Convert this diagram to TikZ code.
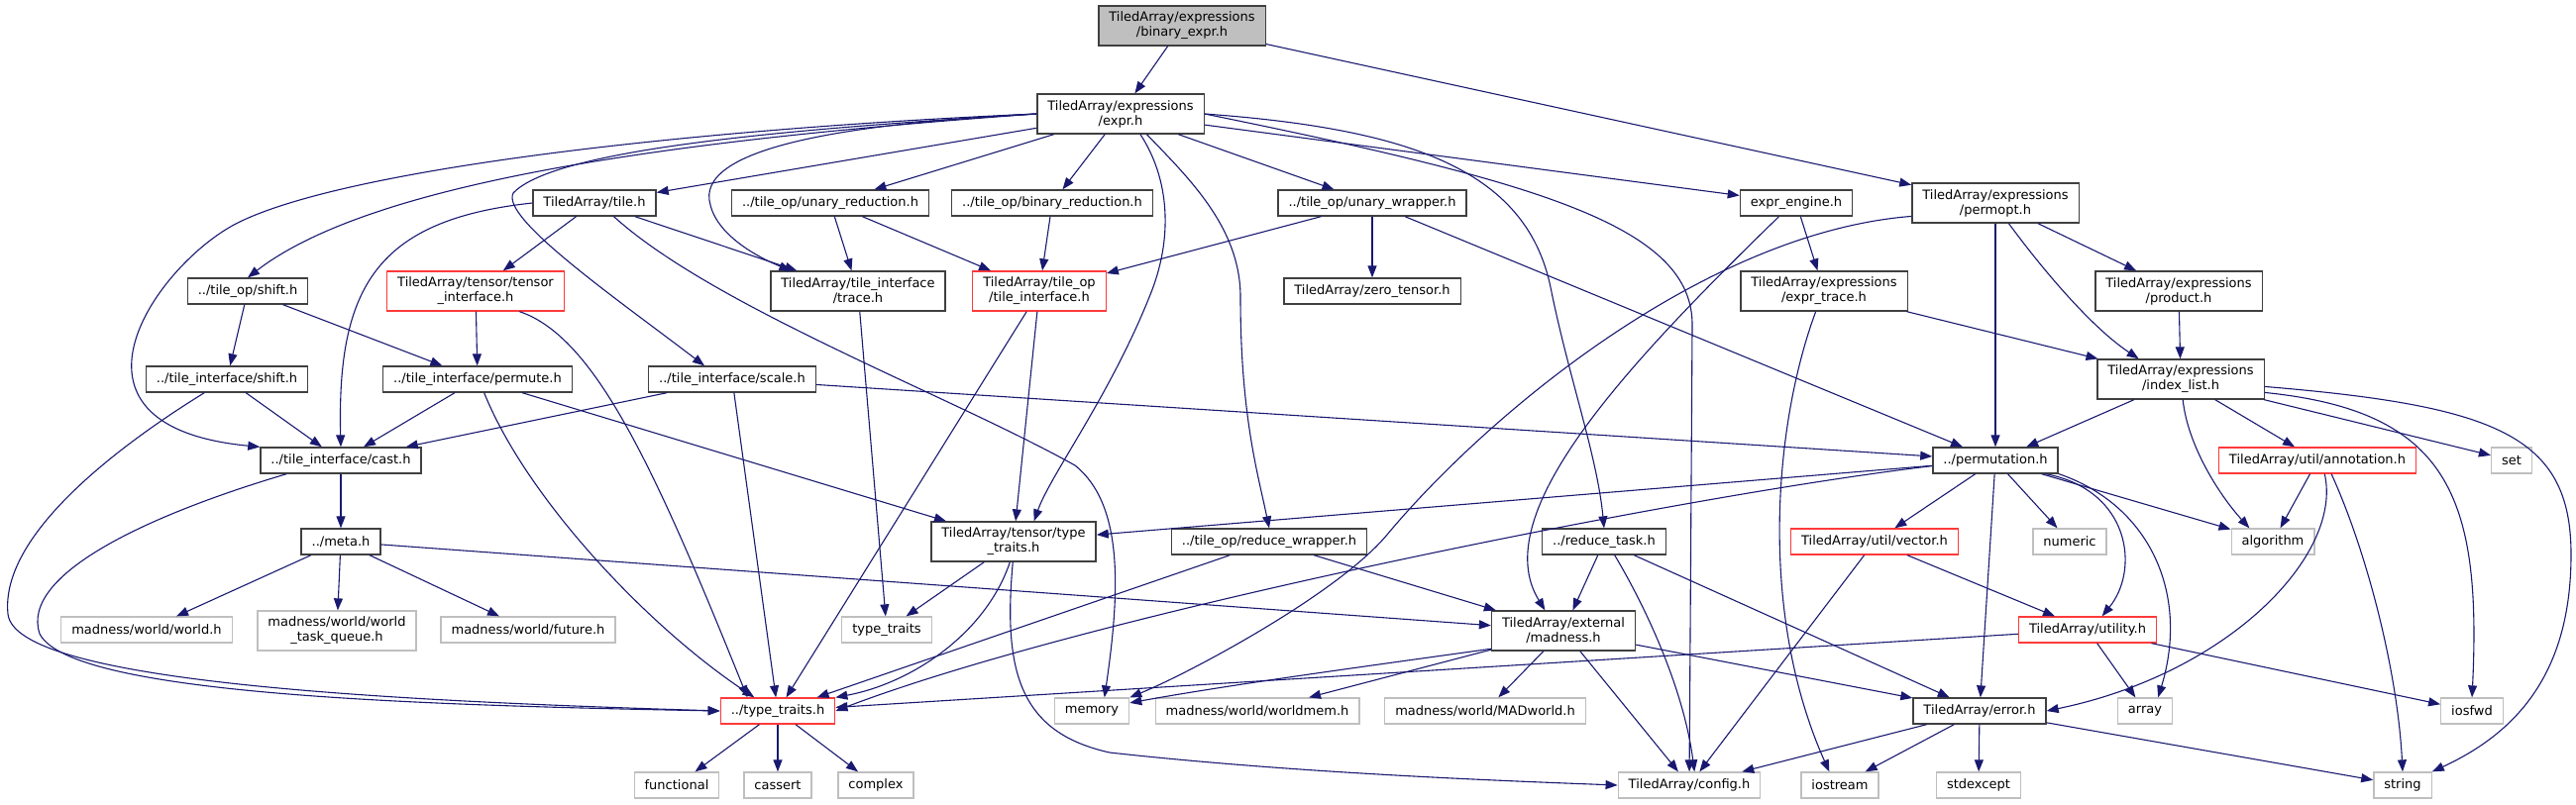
\documentclass[tikz,border=0pt]{standalone}
\usepackage{fontspec}
\setmainfont{DejaVu Sans}
\usetikzlibrary{arrows.meta}
\definecolor{edgeblue}{HTML}{191970}
\definecolor{boxgray}{HTML}{404040}
\definecolor{sysgray}{HTML}{BFBFBF}
\definecolor{cutred}{HTML}{FF3A3A}
\begin{document}
\begin{tikzpicture}[x=1pt, y=-1pt,
  hdr/.style={draw=boxgray, line width=1.3pt, fill=white, align=center,
    font=\fontsize{13}{15}\selectfont, inner xsep=10.5pt, inner ysep=2pt, minimum height=26pt},
  hdrtwo/.style={minimum height=40pt},
  hdrcut/.style={hdr, draw=cutred},
  hdrsys/.style={hdr, draw=sysgray},
  hdrroot/.style={hdr, fill=sysgray},
  inc/.style={draw=edgeblue, line width=1.1pt, -{Triangle[length=12pt,width=9pt]}}]
\useasboundingbox (0,0) rectangle (2600,812);
\node[hdrroot, hdrtwo] (binexpr) at (1193,26) {TiledArray/expressions\\/binary\_expr.h};
\node[hdr, hdrtwo] (expr) at (1131,115) {TiledArray/expressions\\/expr.h};
\node[hdr] (tile) at (600,205) {TiledArray/tile.h};
\node[hdr] (unaryred) at (838,205) {../tile\_op/unary\_reduction.h};
\node[hdr] (binaryred) at (1062,205) {../tile\_op/binary\_reduction.h};
\node[hdr] (unarywrap) at (1385,205) {../tile\_op/unary\_wrapper.h};
\node[hdr] (exprengine) at (1813,205) {expr\_engine.h};
\node[hdr, hdrtwo] (permopt) at (2014,205) {TiledArray/expressions\\/permopt.h};
\node[hdr] (opshift) at (250,294) {../tile\_op/shift.h};
\node[hdrcut, hdrtwo] (tensorif) at (480,294) {TiledArray/tensor/tensor\\\_interface.h};
\node[hdr, hdrtwo] (trace) at (866,294) {TiledArray/tile\_interface\\/trace.h};
\node[hdrcut, hdrtwo] (opif) at (1049,294) {TiledArray/tile\_op\\/tile\_interface.h};
\node[hdr] (zerotensor) at (1385,294) {TiledArray/zero\_tensor.h};
\node[hdr, hdrtwo] (exprtrace) at (1841,294) {TiledArray/expressions\\/expr\_trace.h};
\node[hdr, hdrtwo] (product) at (2199,294) {TiledArray/expressions\\/product.h};
\node[hdr] (ifshift) at (229,383) {../tile\_interface/shift.h};
\node[hdr] (permute) at (482,383) {../tile\_interface/permute.h};
\node[hdr] (scale) at (739,383) {../tile\_interface/scale.h};
\node[hdr, hdrtwo] (indexlist) at (2201,383) {TiledArray/expressions\\/index\_list.h};
\node[hdr] (cast) at (344,465) {../tile\_interface/cast.h};
\node[hdr] (permutation) at (2014,465) {../permutation.h};
\node[hdrcut] (annotation) at (2339,465) {TiledArray/util/annotation.h};
\node[hdrsys] (set) at (2535,465) {set};
\node[hdr] (meta) at (344,547) {../meta.h};
\node[hdr, hdrtwo] (tensortraits) at (1023,547) {TiledArray/tensor/type\\\_traits.h};
\node[hdr] (reducewrap) at (1281,547) {../tile\_op/reduce\_wrapper.h};
\node[hdr] (reducetask) at (1619,547) {../reduce\_task.h};
\node[hdrcut] (vector) at (1892,547) {TiledArray/util/vector.h};
\node[hdrsys] (numeric) at (2089,547) {numeric};
\node[hdrsys] (algorithm) at (2294,547) {algorithm};
\node[hdrsys] (world) at (148,636) {madness/world/world.h};
\node[hdrsys, hdrtwo] (taskqueue) at (340,637) {madness/world/world\\\_task\_queue.h};
\node[hdrsys] (future) at (533,636) {madness/world/future.h};
\node[hdrsys] (stdtraits) at (895,636) {type\_traits};
\node[hdr, hdrtwo] (madness) at (1578,637) {TiledArray/external\\/madness.h};
\node[hdrcut] (utility) at (2107,636) {TiledArray/utility.h};
\node[hdrcut] (typetraits) at (785,718) {../type\_traits.h};
\node[hdrsys] (memory) at (1102,718) {memory};
\node[hdrsys] (worldmem) at (1269,718) {madness/world/worldmem.h};
\node[hdrsys] (madworld) at (1499,718) {madness/world/MADworld.h};
\node[hdr] (error) at (1998,718) {TiledArray/error.h};
\node[hdrsys] (array) at (2165,718) {array};
\node[hdrsys] (iosfwd) at (2495,718) {iosfwd};
\node[hdrsys] (functional) at (683,793) {functional};
\node[hdrsys] (cassert) at (785,793) {cassert};
\node[hdrsys] (complex) at (884,793) {complex};
\node[hdrsys] (config) at (1705,793) {TiledArray/config.h};
\node[hdrsys] (iostream) at (1857,793) {iostream};
\node[hdrsys] (stdexcept) at (1997,793) {stdexcept};
\node[hdrsys] (string) at (2425,793) {string};

\draw[inc] (binexpr) -- (expr);
\draw[inc] (binexpr) -- (permopt);
\draw[inc] (expr) -- (tile);
\draw[inc] (expr) -- (unaryred);
\draw[inc] (expr) -- (binaryred);
\draw[inc] (expr) -- (unarywrap);
\draw[inc] (expr) -- (exprengine);
\draw[inc] (expr.west) .. controls (700,140) and (380,180) .. (opshift.north);
\draw[inc] (expr.west) .. controls (700,130) and (350,170) .. (240,225) .. controls (160,265) and (40,430) .. (cast.north west);
\draw[inc] (expr.west) .. controls (800,130) and (560,150) .. (518,195) .. controls (505,220) and (620,300) .. (scale.154);
\draw[inc] (expr.west) .. controls (850,125) and (700,150) .. (717,207) .. controls (725,240) and (770,262) .. (trace.163);
\draw[inc] (expr.-46) .. controls (1180,180) and (1185,240) .. (1160,300) .. controls (1120,400) and (1060,480) .. (tensortraits.45);
\draw[inc] (expr.-38) .. controls (1200,180) and (1252,230) .. (1252,300) .. controls (1252,420) and (1270,480) .. (reducewrap.north);
\draw[inc] (expr.east) .. controls (1560,185) and (1710,230) .. (1708,330) -- (config);
\draw[inc] (expr.east) .. controls (1420,130) and (1540,170) .. (1565,290) .. controls (1583,380) and (1612,460) .. (reducetask.north);
\draw[inc] (tile.west) .. controls (380,222) and (340,290) .. (cast.north);
\draw[inc] (tile) -- (tensorif);
\draw[inc] (tile) -- (trace);
\draw[inc] (tile.-35) .. controls (720,310) and (960,400) .. (1085,470) .. controls (1135,510) and (1130,600) .. (memory.47);
\draw[inc] (unaryred) -- (trace);
\draw[inc] (unaryred) -- (opif);
\draw[inc] (binaryred) -- (opif);
\draw[inc] (unarywrap) -- (opif);
\draw[inc] (unarywrap) -- (zerotensor);
\draw[inc] (unarywrap) -- (permutation);
\draw[inc] (exprengine) -- (exprtrace);
\draw[inc] (exprengine.-142) .. controls (1640,370) and (1500,520) .. (madness.132);
\draw[inc] (permopt) -- (permutation);
\draw[inc] (permopt) -- (product);
\draw[inc] (permopt.-57) .. controls (2060,270) and (2110,330) .. (indexlist.154);
\draw[inc] (permopt.189) .. controls (1720,235) and (1500,420) .. (1400,540) .. controls (1350,600) and (1200,680) .. (memory.north east);
\draw[inc] (exprtrace) -- (indexlist);
\draw[inc] (exprtrace.-112) .. controls (1790,430) and (1775,620) .. (iostream.128);
\draw[inc] (product) -- (indexlist);
\draw[inc] (indexlist) -- (permutation);
\draw[inc] (indexlist.-84) .. controls (2208,450) and (2240,500) .. (algorithm.150);
\draw[inc] (indexlist) -- (annotation);
\draw[inc] (indexlist) -- (set);
\draw[inc] (indexlist.-9) .. controls (2470,415) and (2505,500) .. (iosfwd.north);
\draw[inc] (indexlist.-5) .. controls (2520,410) and (2595,440) .. (2595,560) .. controls (2595,680) and (2540,740) .. (string.north east);
\draw[inc] (annotation) -- (algorithm);
\draw[inc] (annotation.-62) .. controls (2365,560) and (2250,680) .. (error.east);
\draw[inc] (annotation.-44) .. controls (2390,560) and (2420,680) .. (string.north);
\draw[inc] (permutation) -- (tensortraits);
\draw[inc] (permutation.185) .. controls (1700,500) and (1100,620) .. (typetraits.east);
\draw[inc] (permutation) -- (vector);
\draw[inc] (permutation) -- (numeric);
\draw[inc] (permutation) -- (algorithm);
\draw[inc] (permutation.-15) .. controls (2150,495) and (2160,575) .. (utility.43);
\draw[inc] (permutation.-12) .. controls (2170,510) and (2210,600) .. (array.46);
\draw[inc] (permutation) -- (error);
\draw[inc] (vector) -- (utility);
\draw[inc] (vector) -- (config);
\draw[inc] (utility) -- (typetraits);
\draw[inc] (utility) -- (array);
\draw[inc] (utility) -- (iosfwd);
\draw[inc] (error) -- (config);
\draw[inc] (error) -- (iostream);
\draw[inc] (error) -- (stdexcept);
\draw[inc] (error) -- (string);
\draw[inc] (madness.194) .. controls (1400,670) and (1250,690) .. (memory.12);
\draw[inc] (madness) -- (worldmem);
\draw[inc] (madness) -- (madworld);
\draw[inc] (madness) -- (config);
\draw[inc] (madness) -- (error);
\draw[inc] (reducetask) -- (madness);
\draw[inc] (reducetask.-52) .. controls (1665,620) and (1700,700) .. (config.69);
\draw[inc] (reducetask) -- (error);
\draw[inc] (reducewrap) -- (typetraits);
\draw[inc] (reducewrap) -- (madness);
\draw[inc] (tensortraits) -- (stdtraits);
\draw[inc] (tensortraits.-100) .. controls (995,640) and (920,690) .. (typetraits.north east);
\draw[inc] (tensortraits.-92) .. controls (1012,680) and (1030,740) .. (1120,760) .. controls (1300,780) and (1500,788) .. (config.west);
\draw[inc] (meta) -- (world);
\draw[inc] (meta) -- (taskqueue);
\draw[inc] (meta) -- (future);
\draw[inc] (meta) -- (madness);
\draw[inc] (cast) -- (meta);
\draw[inc] (cast.-166) .. controls (150,520) and (20,580) .. (40,640) .. controls (70,700) and (400,712) .. (typetraits.west);
\draw[inc] (ifshift) -- (cast);
\draw[inc] (ifshift.-149) .. controls (120,450) and (0,540) .. (8,620) .. controls (15,690) and (400,708) .. (typetraits.west);
\draw[inc] (opshift) -- (ifshift);
\draw[inc] (opshift) -- (permute);
\draw[inc] (tensorif) -- (permute);
\draw[inc] (tensorif.-25) .. controls (600,340) and (660,470) .. (typetraits.156);
\draw[inc] (permute) -- (cast);
\draw[inc] (permute.-64) .. controls (530,500) and (650,630) .. (typetraits.150);
\draw[inc] (permute) -- (tensortraits);
\draw[inc] (scale) -- (cast);
\draw[inc] (scale) -- (typetraits);
\draw[inc] (scale) -- (permutation);
\draw[inc] (opif) -- (tensortraits);
\draw[inc] (opif) -- (typetraits);
\draw[inc] (trace) -- (stdtraits);
\draw[inc] (typetraits) -- (functional);
\draw[inc] (typetraits) -- (cassert);
\draw[inc] (typetraits) -- (complex);
\end{tikzpicture}
\end{document}
